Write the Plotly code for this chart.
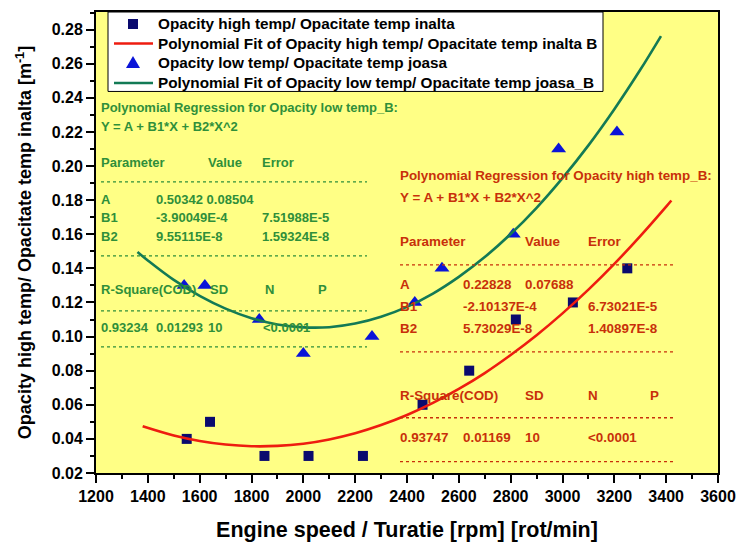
import plotly.graph_objects as go

# ---------------- data ----------------
speed_high = [1550, 1640, 1850, 2020, 2230, 2460, 2640, 2820, 3040, 3250]
opacity_high = [0.04, 0.05, 0.03, 0.03, 0.03, 0.06, 0.08, 0.11, 0.12, 0.14]

speed_low = [1540, 1620, 1830, 2000, 2265, 2430, 2535, 2810, 2985, 3210]
opacity_low = [0.13, 0.13, 0.11, 0.09, 0.10, 0.12, 0.14, 0.16, 0.21, 0.22]

fit_high_x = [1380, 1500, 1600, 1700, 1800, 1900, 2000, 2100, 2200, 2300, 2400,
              2500, 2600, 2700, 2800, 2900, 3000, 3100, 3200, 3300, 3400, 3420]
fit_high_y = [0.0474, 0.0420, 0.0388, 0.0367, 0.0357, 0.0359, 0.0372, 0.0397,
              0.0433, 0.0481, 0.0540, 0.0611, 0.0693, 0.0786, 0.0892, 0.1008,
              0.1136, 0.1275, 0.1426, 0.1589, 0.1762, 0.1798]

fit_low_x = [1360, 1400, 1500, 1600, 1700, 1800, 1900, 2000, 2100, 2200, 2300,
             2400, 2500, 2600, 2700, 2800, 2900, 3000, 3100, 3200, 3300, 3380]
fit_low_y = [0.1496, 0.1446, 0.1332, 0.1239, 0.1164, 0.1108, 0.1071, 0.1054,
             0.1055, 0.1076, 0.1116, 0.1174, 0.1252, 0.1350, 0.1466, 0.1601,
             0.1755, 0.1929, 0.2121, 0.2333, 0.2564, 0.2762]

x_ticks = list(range(1200, 3601, 200))
y_ticks = [0.02, 0.04, 0.06, 0.08, 0.10, 0.12, 0.14, 0.16, 0.18, 0.20, 0.22, 0.24, 0.26, 0.28]

names = [
    "Opacity high temp/ Opacitate temp inalta",
    "Polynomial Fit of Opacity high temp/ Opacitate temp inalta B",
    "Opacity low temp/ Opacitate temp joasa",
    "Polynomial Fit of Opacity low temp/ Opacitate temp joasa_B",
]

# regression tables (text shown on chart)
green_rows = [
    ["Polynomial Regression for Opacity low temp_B:"],
    ["Y = A + B1*X + B2*X^2"],
    ["Parameter", "Value", "Error"],
    ["A", "0.50342 0.08504"],
    ["B1", "-3.90049E-4", "7.51988E-5"],
    ["B2", "9.55115E-8", "1.59324E-8"],
    ["R-Square(COD)", "SD", "N", "P"],
    ["0.93234", "0.01293", "10", "<0.0001"],
]
red_rows = [
    ["Polynomial Regression for Opacity high temp_B:"],
    ["Y = A + B1*X + B2*X^2"],
    ["Parameter", "Value", "Error"],
    ["A", "0.22828", "0.07688"],
    ["B1", "-2.10137E-4", "6.73021E-5"],
    ["B2", "5.73029E-8", "1.40897E-8"],
    ["R-Square(COD)", "SD", "N", "P"],
    ["0.93747", "0.01169", "10", "<0.0001"],
]

# ---------------- layout helpers (pixel -> paper) ----------------
L, R, T, B = 96, 718, 12, 473.3
def px(x):
    return (x - L) / (R - L)
def py(y):
    return (B - y) / (B - T)

FONT = "Liberation Sans, Arial, sans-serif"
GREEN_TXT = "#2f8f3a"
RED_TXT = "#c8300a"
C_SQ = "#0a0a6e"
C_RED = "#ee1c10"
C_TRI = "#0a14d8"
C_TEAL = "#137a55"

fig = go.Figure()
fig.add_trace(go.Scatter(x=speed_high, y=opacity_high, mode="markers", name=names[0],
                         marker=dict(symbol="square", size=10, color=C_SQ)))
fig.add_trace(go.Scatter(x=fit_high_x, y=fit_high_y, mode="lines", name=names[1],
                         line=dict(color=C_RED, width=2.6, shape="spline")))
fig.add_trace(go.Scatter(x=speed_low, y=opacity_low, mode="markers", name=names[2],
                         marker=dict(symbol="triangle-up", size=13, color=C_TRI)))
fig.add_trace(go.Scatter(x=fit_low_x, y=fit_low_y, mode="lines", name=names[3],
                         line=dict(color=C_TEAL, width=2.6, shape="spline")))

annotations = []
shapes = []

def add_block(rows, color, x0, cols, ys, dash_ys, dash_x1, size):
    for r_i, row in enumerate(rows):
        for c_i, txt in enumerate(row):
            xx = cols[r_i][c_i]
            annotations.append(dict(
                x=px(xx), y=py(ys[r_i]), xref="paper", yref="paper",
                text=txt, showarrow=False, xanchor="left", yanchor="middle",
                xshift=-2,
                font=dict(family=FONT, size=size, color=color, weight="bold")))
    for dy in dash_ys:
        shapes.append(dict(type="line", xref="paper", yref="paper",
                           x0=px(x0), x1=px(dash_x1), y0=py(dy), y1=py(dy),
                           line=dict(color=color, width=1.3, dash="dot")))

gx = 101
green_cols = [[gx], [gx], [gx, 208, 262], [gx, 156], [gx, 156, 262], [gx, 156, 262],
              [gx, 210, 265, 318], [gx, 156, 208, 263]]
green_y = [108, 127, 163, 200, 218, 237, 290, 328]
add_block(green_rows, GREEN_TXT, gx, green_cols, green_y, [182, 256, 311, 347], 367, 13.0)

rx = 400
red_cols = [[rx], [rx], [rx, 525, 588], [rx, 463, 525], [rx, 463, 588], [rx, 463, 588],
            [rx, 525, 588, 650], [rx, 463, 525, 588]]
red_y = [176, 198, 242, 285, 307, 329, 396, 438]
add_block(red_rows, RED_TXT, rx, red_cols, red_y, [265, 352, 418, 462], 673, 13.4)

# ---------------- legend box (drawn to match the original's compact rows) ----------------
leg_rows = [24, 43.5, 63, 83]
shapes.append(dict(type="rect", xref="paper", yref="paper",
                   x0=px(108), x1=px(603), y0=py(91.5), y1=py(12),
                   fillcolor="white", line=dict(color="black", width=1)))
shapes.append(dict(type="rect", xref="paper", yref="paper",
                   x0=px(128), x1=px(138), y0=py(leg_rows[0] + 5), y1=py(leg_rows[0] - 5),
                   fillcolor=C_SQ, line=dict(width=0)))
shapes.append(dict(type="line", xref="paper", yref="paper",
                   x0=px(114), x1=px(153), y0=py(leg_rows[1]), y1=py(leg_rows[1]),
                   line=dict(color=C_RED, width=2.6)))
ty = leg_rows[2]
shapes.append(dict(type="path", xref="paper", yref="paper",
                   path="M %f,%f L %f,%f L %f,%f Z" % (px(133), py(ty - 7), px(126), py(ty + 5),
                                                       px(140), py(ty + 5)),
                   fillcolor=C_TRI, line=dict(width=0)))
shapes.append(dict(type="line", xref="paper", yref="paper",
                   x0=px(114), x1=px(153), y0=py(leg_rows[3]), y1=py(leg_rows[3]),
                   line=dict(color=C_TEAL, width=2.6)))
for name, ly in zip(names, leg_rows):
    annotations.append(dict(x=px(156), y=py(ly), xref="paper", yref="paper",
                            text=name, showarrow=False, xanchor="left", yanchor="middle",
                            font=dict(family=FONT, size=15.3, color="black", weight="bold")))

fig.update_layout(
    width=737, height=542,
    margin=dict(l=L, r=737 - R, t=T, b=542 - B),
    paper_bgcolor="white",
    plot_bgcolor="#ffff85",
    showlegend=False,
    annotations=annotations,
    shapes=shapes,
    xaxis=dict(range=[1200, 3600], tickmode="array", tickvals=x_ticks,
               ticktext=[str(v) for v in x_ticks], automargin=False,
               showgrid=False, zeroline=False, showline=True, linecolor="black",
               linewidth=2, mirror=True, ticks="outside", ticklen=8, tickwidth=2,
               tickcolor="black",
               tickfont=dict(family=FONT, size=16, color="black", weight="bold"),
               minor=dict(ticks="outside", ticklen=4, tickwidth=1.5, tickcolor="black",
                          dtick=100, showgrid=False),
               title=dict(text="Engine speed / Turatie [rpm] [rot/min]",
                          font=dict(family=FONT, size=21.5, color="black", weight="bold"),
                          standoff=24)),
    yaxis=dict(range=[0.02, 0.2903], tickmode="array", tickvals=y_ticks,
               ticktext=["%.2f" % v for v in y_ticks], automargin=False,
               showgrid=False, zeroline=False, showline=True, linecolor="black",
               linewidth=2, mirror=True, ticks="outside", ticklen=8, tickwidth=2,
               tickcolor="black",
               tickfont=dict(family=FONT, size=16, color="black", weight="bold"),
               minor=dict(ticks="outside", ticklen=4, tickwidth=1.5, tickcolor="black",
                          dtick=0.01, showgrid=False),
               title=dict(text="Opacity high temp/ Opacitate temp inalta [m<sup>-1</sup>]",
                          font=dict(family=FONT, size=18, color="black", weight="bold"),
                          standoff=15)),
)

fig.write_html("out.html", config={"displayModeBar": False},
               post_script="document.body.style.margin='0px';")
